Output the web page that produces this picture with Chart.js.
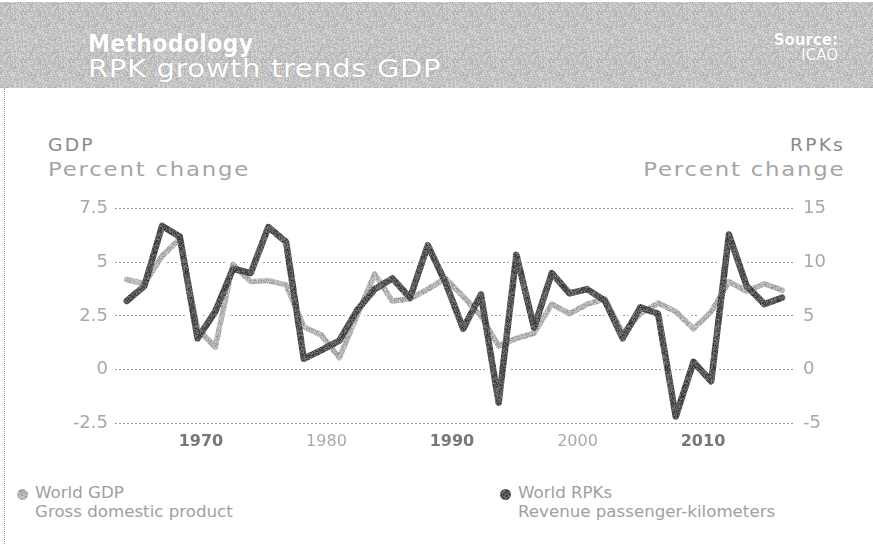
<!DOCTYPE html>
<html>
<head>
<meta charset="utf-8">
<script src="https://cdn.jsdelivr.net/npm/chart.js@4.4.1/dist/chart.umd.min.js"></script>
<style>
  body { margin: 0; width: 873px; height: 544px; overflow: hidden; position: relative; background: #fff; font-family: "DejaVu Sans", sans-serif; }
  #band { position: absolute; left: 0; top: 2px; width: 873px; height: 86px; background-color: #c2c2c2; }
  #edge { position: absolute; left: 4px; top: 88px; width: 0; height: 456px; border-left: 1px dotted #9a9a9a; }
  .txt { position: absolute; line-height: 1; white-space: nowrap; transform-origin: left top; }
  .white { color: #fff; text-shadow: 0 0 1px #9c9c9c; }
  .right { text-align: right; transform-origin: right top; }
  #chartBox { position: absolute; left: 0; top: 190px; width: 873px; height: 270px; }
  .dot { position: absolute; width: 11px; height: 11px; border-radius: 50%; }
  .legend { font-size: 15px; color: #a0a0a0; transform: scaleX(1.11); }
</style>
</head>
<body>
<div id="band"></div>
<div id="edge"></div>
<div class="txt white" style="left:88px; top:32px; font-size:24px; font-weight:bold; letter-spacing:0.3px; transform:scaleX(0.92);">Methodology</div>
<div class="txt white" style="left:88px; top:57px; font-size:24px; letter-spacing:0.5px; transform:scaleX(1.21);">RPK growth trends GDP</div>
<div class="txt white right" style="right:35px; top:33px; font-size:15px; font-weight:bold;">Source:</div>
<div class="txt white right" style="right:35px; top:48px; font-size:15px;">ICAO</div>

<div class="txt" style="left:48px; top:137px; font-size:17px; color:#8a8a8a; letter-spacing:2px; transform:scaleX(1.1);">GDP</div>
<div class="txt" style="left:48px; top:160px; font-size:19px; color:#a5a5a5; letter-spacing:1.5px; transform:scaleX(1.2);">Percent change</div>
<div class="txt right" style="right:28px; top:137px; font-size:17px; color:#8a8a8a; letter-spacing:2px; transform:scaleX(1.1);">RPKs</div>
<div class="txt right" style="right:28px; top:160px; font-size:19px; color:#a5a5a5; letter-spacing:1.5px; transform:scaleX(1.2);">Percent change</div>

<div id="chartBox"><canvas id="growthChart"></canvas></div>

<div class="dot" id="dotGdp" style="left:17px; top:489px;"></div>
<div class="txt legend" style="left:35px; top:486px;">World GDP</div>
<div class="txt legend" style="left:35px; top:505px;">Gross domestic product</div>
<div class="dot" id="dotRpk" style="left:500px; top:489px;"></div>
<div class="txt legend" style="left:518px; top:486px;">World RPKs</div>
<div class="txt legend" style="left:518px; top:505px;">Revenue passenger-kilometers</div>

<script>
const years = [1970, 1971, 1972, 1973, 1974, 1975, 1976, 1977, 1978, 1979,
  1980, 1981, 1982, 1983, 1984, 1985, 1986, 1987, 1988, 1989,
  1990, 1991, 1992, 1993, 1994, 1995, 1996, 1997, 1998, 1999,
  2000, 2001, 2002, 2003, 2004, 2005, 2006, 2007];

// world GDP, percent change (left axis)
const gdpGrowth = [4.2, 4.0, 5.3, 6.1, 1.9, 1.05, 4.9, 4.1, 4.15, 3.95,
  2.0, 1.6, 0.55, 2.5, 4.45, 3.2, 3.3, 3.75, 4.25, 3.4,
  2.5, 1.1, 1.45, 1.7, 3.05, 2.6, 3.05, 3.3, 1.7, 2.6,
  3.1, 2.7, 1.9, 2.7, 4.1, 3.65, 4.0, 3.7];

// world RPKs, percent change (right axis)
const rpkGrowth = [6.4, 7.8, 13.4, 12.4, 2.9, 5.4, 9.4, 9.0, 13.3, 11.9,
  1.0, 1.8, 2.7, 5.5, 7.5, 8.5, 6.7, 11.6, 8.1, 3.8,
  7.0, -3.1, 10.7, 3.9, 9.0, 7.1, 7.5, 6.4, 2.9, 5.8,
  5.2, -4.4, 0.7, -1.1, 12.6, 7.8, 6.1, 6.7];

const gdpTicks = [-2.5, 0, 2.5, 5, 7.5];
const rpkTicks = [-5, 0, 5, 10, 15];
const yearTicks = [1970, 1980, 1990, 2000, 2010];

// grainy print texture, deterministic
function grain(base, spread) {
  const c = document.createElement("canvas");
  c.width = 48;
  c.height = 48;
  const g = c.getContext("2d");
  const img = g.createImageData(48, 48);
  let s = 12345;
  for (let i = 0; i < 48 * 48; i++) {
    s = (s * 1103515245 + 12345) & 0x7fffffff;
    const v = Math.max(0, Math.min(255, base + ((s >> 8) % (spread * 2 + 1)) - spread));
    img.data[i * 4] = v;
    img.data[i * 4 + 1] = v;
    img.data[i * 4 + 2] = v;
    img.data[i * 4 + 3] = 255;
  }
  g.putImageData(img, 0, 0);
  return c;
}

const darkTex = grain(88, 40);
const lightTex = grain(178, 30);
document.getElementById("band").style.backgroundImage = "url(" + grain(196, 22).toDataURL() + ")";
document.getElementById("dotGdp").style.backgroundImage = "url(" + lightTex.toDataURL() + ")";
document.getElementById("dotRpk").style.backgroundImage = "url(" + darkTex.toDataURL() + ")";

const ctx = document.getElementById("growthChart");
const pctx = ctx.getContext("2d");
const darkPattern = pctx.createPattern(darkTex, "repeat");
const lightPattern = pctx.createPattern(lightTex, "repeat");

const gdpPoints = years.map((yr, i) => ({ x: yr, y: gdpGrowth[i] }));
const rpkPoints = years.map((yr, i) => ({ x: yr, y: rpkGrowth[i] }));

const lineBase = {
  pointRadius: 0,
  tension: 0,
  borderJoinStyle: "round",
  borderCapStyle: "round",
  xAxisID: "x",
};

new Chart(ctx, {
  type: "line",
  data: {
    datasets: [
      { ...lineBase, label: "halo gdp", data: gdpPoints, yAxisID: "y", borderColor: "#fff", borderWidth: 13, order: 4 },
      { ...lineBase, label: "halo rpk", data: rpkPoints, yAxisID: "y1", borderColor: "#fff", borderWidth: 13, order: 3 },
      { ...lineBase, label: "World GDP", data: gdpPoints, yAxisID: "y", borderColor: lightPattern, borderWidth: 5.5, order: 2 },
      { ...lineBase, label: "World RPKs", data: rpkPoints, yAxisID: "y1", borderColor: darkPattern, borderWidth: 6.5, order: 1 },
    ],
  },
  options: {
    responsive: true,
    maintainAspectRatio: false,
    animation: false,
    layout: { padding: { top: 16, left: 0, right: 0, bottom: 0 } },
    plugins: {
      legend: { display: false },
      tooltip: { enabled: false },
    },
    scales: {
      x: {
        type: "linear",
        display: false,
        min: 1969.34,
        max: 2007.73,
      },
      xYear: {
        type: "linear",
        position: "bottom",
        min: 1963.15,
        max: 2017.33,
        afterBuildTicks: (scale) => {
          scale.ticks = yearTicks.map((v) => ({ value: v }));
        },
        afterFit: (scale) => {
          scale.height = 37;
        },
        grid: { display: false, drawTicks: false },
        border: { display: false },
        ticks: {
          padding: 9,
          maxRotation: 0,
          callback: (v) => String(v),
          color: (c) => (c.tick && c.tick.value % 20 === 10 ? "#777" : "#ababab"),
          font: (c) => ({
            family: "DejaVu Sans",
            size: 16,
            weight: c.tick && c.tick.value % 20 === 10 ? "bold" : "normal",
          }),
        },
      },
      y: {
        position: "left",
        min: -2.5,
        max: 7.5,
        afterBuildTicks: (scale) => {
          scale.ticks = gdpTicks.map((v) => ({ value: v }));
        },
        afterFit: (scale) => {
          scale.width = 115;
        },
        grid: { color: "#9a9a9a", lineWidth: 1, drawTicks: false },
        border: { display: false, dash: [2, 2] },
        ticks: {
          padding: 7,
          color: "#a8a8a8",
          font: { family: "DejaVu Sans", size: 18 },
        },
      },
      y1: {
        position: "right",
        min: -5,
        max: 15,
        afterBuildTicks: (scale) => {
          scale.ticks = rpkTicks.map((v) => ({ value: v }));
        },
        afterFit: (scale) => {
          scale.width = 78;
        },
        grid: { display: false, drawTicks: false },
        border: { display: false },
        ticks: {
          padding: 8,
          color: "#a8a8a8",
          font: { family: "DejaVu Sans", size: 18 },
        },
      },
    },
  },
});
</script>
</body>
</html>
